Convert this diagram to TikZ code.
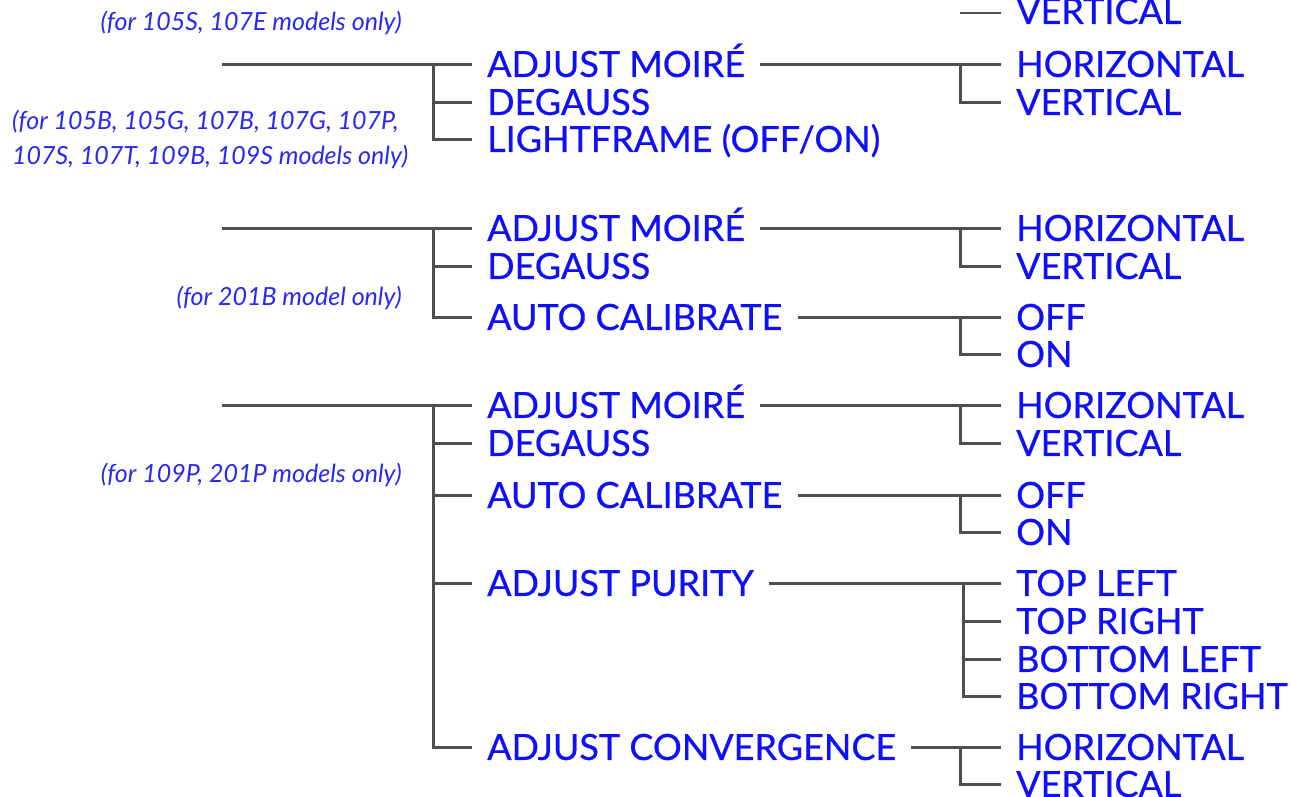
\documentclass[tikz,border=0pt]{standalone}
\usepackage{fontspec}
\setmainfont{Lato}
\newfontfamily\itemfont{Lato}[FakeBold=0.6]
\definecolor{txtblue}{RGB}{15,15,250}
\definecolor{notblue}{RGB}{40,40,245}
\definecolor{linegray}{RGB}{78,78,78}
\begin{document}
\begin{tikzpicture}[x=1pt,y=-1pt,
 conn/.style={draw=linegray,line width=3pt},
 item/.style={anchor=west,text=txtblue,font=\itemfont\fontsize{36}{36}\selectfont,inner xsep=15pt,inner ysep=0pt,text height=25.8pt,text depth=0pt},
 note/.style={text=notblue,font=\fontsize{25}{25}\selectfont\itshape,inner sep=0pt}]
\useasboundingbox (0,0) rectangle (1292,796);
\clip (0,0) rectangle (1292,796);
% ---------- group 0 (partial, top) ----------
\node[item] (v0) at (1001,11) {VERTICAL};
\coordinate (j0) at (960,13);
\draw[conn,line width=1.6pt] (j0) -- (v0.west |- j0);
\node[note,anchor=east] (n0) at (402,23) {(for 105S, 107E models only)};
% ---------- group 1 ----------
\coordinate (r1) at (222,64);
\coordinate (s1) at (433,64);
\node[item] (a1) at (472,64) {ADJUST MOIRÉ};
\node[item] (b1) at (472,102) {DEGAUSS};
\node[item] (c1) at (472,139) {LIGHTFRAME (OFF/ON)};
\draw[conn] (r1) -- (a1.west);
\draw[conn] (s1) |- (b1.west);
\draw[conn] (s1) |- (c1.west);
\coordinate (j1) at (960,64);
\node[item] (h1) at (1001,64) {HORIZONTAL};
\node[item] (v1) at (1001,102) {VERTICAL};
\draw[conn] (a1.east) -- (h1.west);
\draw[conn] (j1) |- (v1.west);
\node[note,anchor=west] (n1a) at (12,122) {(for 105B, 105G, 107B, 107G, 107P,};
\node[note,anchor=west] (n1b) at (12,157) {107S, 107T, 109B, 109S models only)};
% ---------- group 2 ----------
\coordinate (r2) at (222,228);
\coordinate (s2) at (433,228);
\node[item] (a2) at (472,228) {ADJUST MOIRÉ};
\node[item] (b2) at (472,266) {DEGAUSS};
\node[item] (c2) at (472,317) {AUTO CALIBRATE};
\draw[conn] (r2) -- (a2.west);
\draw[conn] (s2) |- (b2.west);
\draw[conn] (s2) |- (c2.west);
\coordinate (j2) at (960,228);
\node[item] (h2) at (1001,228) {HORIZONTAL};
\node[item] (v2) at (1001,266) {VERTICAL};
\draw[conn] (a2.east) -- (h2.west);
\draw[conn] (j2) |- (v2.west);
\coordinate (k2) at (960,317);
\node[item] (f2) at (1001,317) {OFF};
\node[item] (o2) at (1001,354) {ON};
\draw[conn] (c2.east) -- (f2.west);
\draw[conn] (k2) |- (o2.west);
\node[note,anchor=east] (n2) at (402,298) {(for 201B model only)};
% ---------- group 3 ----------
\coordinate (r3) at (222,405);
\coordinate (s3) at (433,405);
\node[item] (a3) at (472,405) {ADJUST MOIRÉ};
\node[item] (b3) at (472,443) {DEGAUSS};
\node[item] (c3) at (472,495) {AUTO CALIBRATE};
\node[item] (d3) at (472,583) {ADJUST PURITY};
\node[item] (e3) at (472,747) {ADJUST CONVERGENCE};
\draw[conn] (r3) -- (a3.west);
\draw[conn] (s3) |- (b3.west);
\draw[conn] (s3) |- (c3.west);
\draw[conn] (s3) |- (d3.west);
\draw[conn] (s3) |- (e3.west);
\coordinate (j3) at (960,405);
\node[item] (h3) at (1001,405) {HORIZONTAL};
\node[item] (v3) at (1001,443) {VERTICAL};
\draw[conn] (a3.east) -- (h3.west);
\draw[conn] (j3) |- (v3.west);
\coordinate (k3) at (960,495);
\node[item] (f3) at (1001,495) {OFF};
\node[item] (o3) at (1001,532) {ON};
\draw[conn] (c3.east) -- (f3.west);
\draw[conn] (k3) |- (o3.west);
\coordinate (p3) at (963,583);
\node[item] (tl3) at (1001,583) {TOP LEFT};
\node[item] (tr3) at (1001,621) {TOP RIGHT};
\node[item] (bl3) at (1001,659) {BOTTOM LEFT};
\node[item] (br3) at (1001,696) {BOTTOM RIGHT};
\draw[conn] (d3.east) -- (tl3.west);
\draw[conn] (p3) |- (tr3.west);
\draw[conn] (p3) |- (bl3.west);
\draw[conn] (p3) |- (br3.west);
\coordinate (q3) at (960,747);
\node[item] (ch3) at (1001,747) {HORIZONTAL};
\node[item] (cv3) at (1001,784) {VERTICAL};
\draw[conn] (e3.east) -- (ch3.west);
\draw[conn] (q3) |- (cv3.west);
\node[note,anchor=east] (n3) at (402,475) {(for 109P, 201P models only)};
\end{tikzpicture}
\end{document}
